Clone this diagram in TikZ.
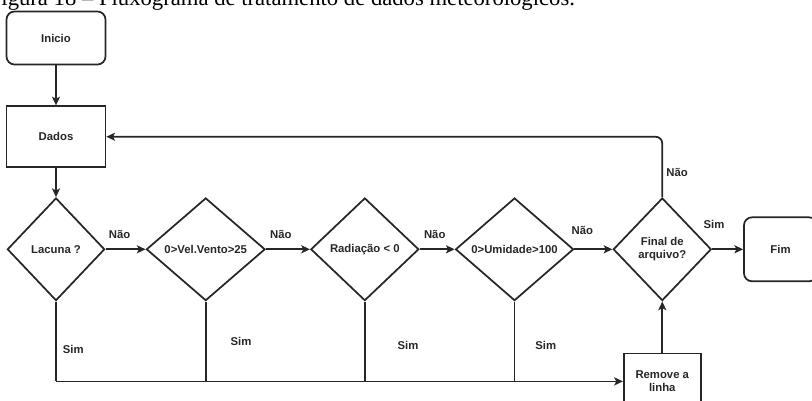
\documentclass[tikz,border=0pt]{standalone}
\usepackage{fontspec}
\setmainfont{Liberation Sans}
\newfontfamily\capfont{Liberation Serif}
\usetikzlibrary{shapes.geometric,arrows.meta,positioning}

\begin{document}
\begin{tikzpicture}[
    node distance=30pt,
    color=black!85,
    line width=1.3pt,
    font=\bfseries\fontsize{8.5pt}{10pt}\selectfont,
    terminal/.style={rectangle, draw, rounded corners=6pt, minimum width=74.25pt, text centered},
    block/.style={rectangle, draw, minimum width=74.25pt, minimum height=45.75pt, align=center},
    decision/.style={diamond, draw, minimum height=77pt, inner sep=1pt, align=center},
    lbl/.style={inner sep=1pt},
    arrow/.style={-{Stealth[length=6.5pt, width=6pt, inset=1.5pt]}}
]
    \clip (0,0) rectangle (609pt,-300pt);
    \node[anchor=base west, inner sep=0pt, text=black, font=\capfont\fontsize{17pt}{20pt}\selectfont] (caption) at (-9pt,-4.3pt)
        {Figura 18 – Fluxograma de tratamento de dados meteorológicos.};

    \node[terminal, minimum height=39.75pt] (inicio) at (42pt,-28.5pt) {Inicio};
    \node[block, below=of inicio] (dados) {Dados};
    \node[decision, minimum width=73pt, below=21.75pt of dados] (lacuna) {Lacuna ?};
    \node[decision, minimum width=89pt, right=30pt of lacuna] (vento) {0>Vel.Vento>25};
    \node[decision, minimum width=81pt, right=33pt of vento] (radiacao) {Radiação < 0};
    \node[decision, minimum width=88.5pt, right=26.25pt of radiacao] (umidade) {0>Umidade>100};
    \node[decision, minimum width=73.5pt, right=28.5pt of umidade] (final) {Final de\\arquivo?};
    \node[terminal, minimum width=54.75pt, minimum height=48pt, right=23.25pt of final] (fim) {Fim};
    \node[block, minimum width=57.75pt, minimum height=42pt, below=38.25pt of final] (remove) {Remove a\\linha};

    \coordinate (j1) at (lacuna.south |- remove.west);
    \coordinate (j2) at (vento.south |- remove.west);
    \coordinate (j3) at (radiacao.south |- remove.west);
    \coordinate (j4) at (umidade.south |- remove.west);

    \draw[arrow] (inicio) -- (dados);
    \draw[arrow] (dados) -- (lacuna);
    \draw[arrow] (lacuna) -- node[lbl, above=6pt, pos=0.35] {Não} (vento);
    \draw[arrow] (vento) -- node[lbl, above=6pt, pos=0.34] {Não} (radiacao);
    \draw[arrow] (radiacao) -- node[lbl, above=6pt, pos=0.43] {Não} (umidade);
    \draw[arrow] (umidade) -- node[lbl, above=9pt, pos=0.21] {Não} (final);
    \draw[arrow] (final) -- node[lbl, above=13.5pt, pos=0.06] {Sim} (fim);
    \draw[arrow, rounded corners=5pt] (final.north) |- node[lbl, right=1.5pt, pos=0.2] {Não} (dados.east);

    \draw (lacuna.south) -- node[lbl, right=3.5pt, pos=0.6] {Sim} (j1);
    \draw (vento.south) -- node[lbl, right=17pt, pos=0.5] {Sim} (j2);
    \draw (radiacao.south) -- node[lbl, right=23pt, pos=0.55] {Sim} (j3);
    \draw (umidade.south) -- node[lbl, right=14pt, pos=0.55] {Sim} (j4);
    \draw[arrow] (j1) -- (remove.west);
    \draw[arrow] (remove) -- (final);
\end{tikzpicture}
\end{document}
